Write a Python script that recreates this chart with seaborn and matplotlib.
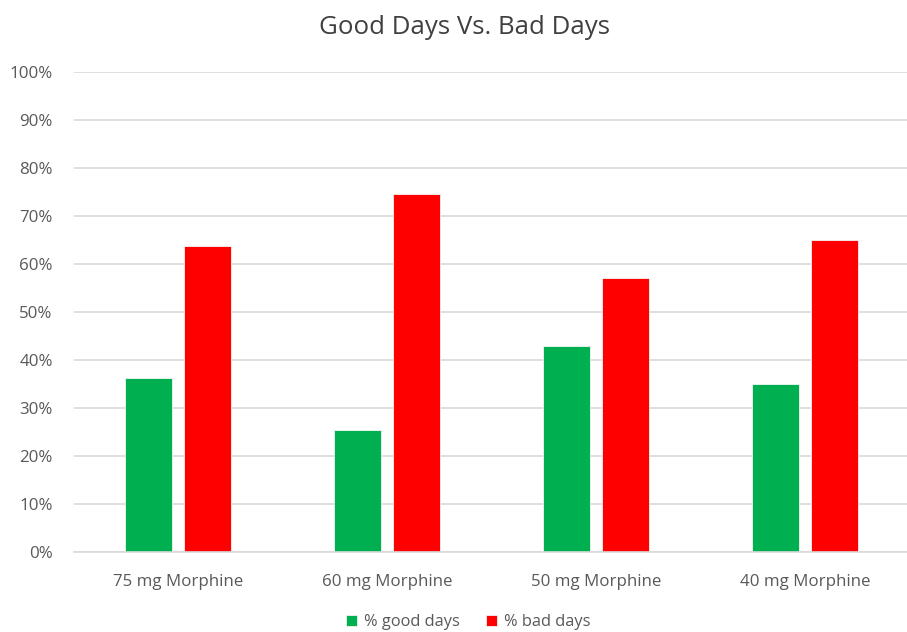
import matplotlib
matplotlib.use("Agg")
import matplotlib.pyplot as plt
import seaborn as sns
import pandas as pd
from matplotlib.ticker import PercentFormatter

categories = ["75 mg Morphine", "60 mg Morphine", "50 mg Morphine", "40 mg Morphine"]
good_days = [36.25, 25.5, 42.86, 35.0]
bad_days = [63.75, 74.5, 57.14, 65.0]
series_names = ["% good days", "% bad days"]
y_ticks = [0, 10, 20, 30, 40, 50, 60, 70, 80, 90, 100]

df = pd.DataFrame({
    "category": categories * 2,
    "series": [series_names[0]] * len(categories) + [series_names[1]] * len(categories),
    "value": good_days + bad_days,
})

sns.set_theme(style="white")
plt.rcParams["font.family"] = ["Open Sans", "DejaVu Sans"]

W, H = 907, 632
fig = plt.figure(figsize=(W / 100, H / 100), dpi=100)
left, right, top, bottom = 73.5, 907, 72, 552
ax = fig.add_axes([left / W, (H - bottom) / H, (right - left) / W, (bottom - top) / H])

text_color = "#595959"
title_color = "#404040"
grid_color = "#D9D9D9"

sns.barplot(data=df, x="category", y="value", hue="series", order=categories,
            hue_order=series_names,
            palette={series_names[0]: "#00B050", series_names[1]: "#FF0000"},
            width=0.571, gap=0.213, saturation=1, ax=ax, errorbar=None,
            linewidth=0.6, edgecolor="#F4F4F4")

ax.set_ylim(0, 100)
ax.set_xlim(-0.5, -0.5 + (right - left) / 209)
ax.set_yticks(y_ticks)
ax.yaxis.set_major_formatter(PercentFormatter(decimals=0))
ax.yaxis.grid(True, color=grid_color, linewidth=1.2)
ax.set_axisbelow(True)
for side in ["top", "right", "left"]:
    ax.spines[side].set_visible(False)
ax.spines["bottom"].set_color(grid_color)
ax.spines["bottom"].set_linewidth(1.2)
ax.set_xlabel("")
ax.set_ylabel("")
ax.tick_params(axis="both", length=0, labelsize=12.2, colors=text_color)
ax.tick_params(axis="y", pad=15)
ax.tick_params(axis="x", pad=16)

fig.text(465 / W, 1 - 27 / H, "Good Days Vs. Bad Days", ha="center", va="center",
         fontsize=18.6, color=title_color)

sns.move_legend(ax, "center", bbox_to_anchor=(468 / W, 1 - 622 / H),
                bbox_transform=fig.transFigure, ncol=2, frameon=False, title=None,
                fontsize=11.8, handlelength=0.7, handleheight=0.7, handletextpad=0.4,
                columnspacing=1.6)
for t in ax.get_legend().get_texts():
    t.set_color(text_color)

fig.savefig("out.png", dpi=100, facecolor="white")
